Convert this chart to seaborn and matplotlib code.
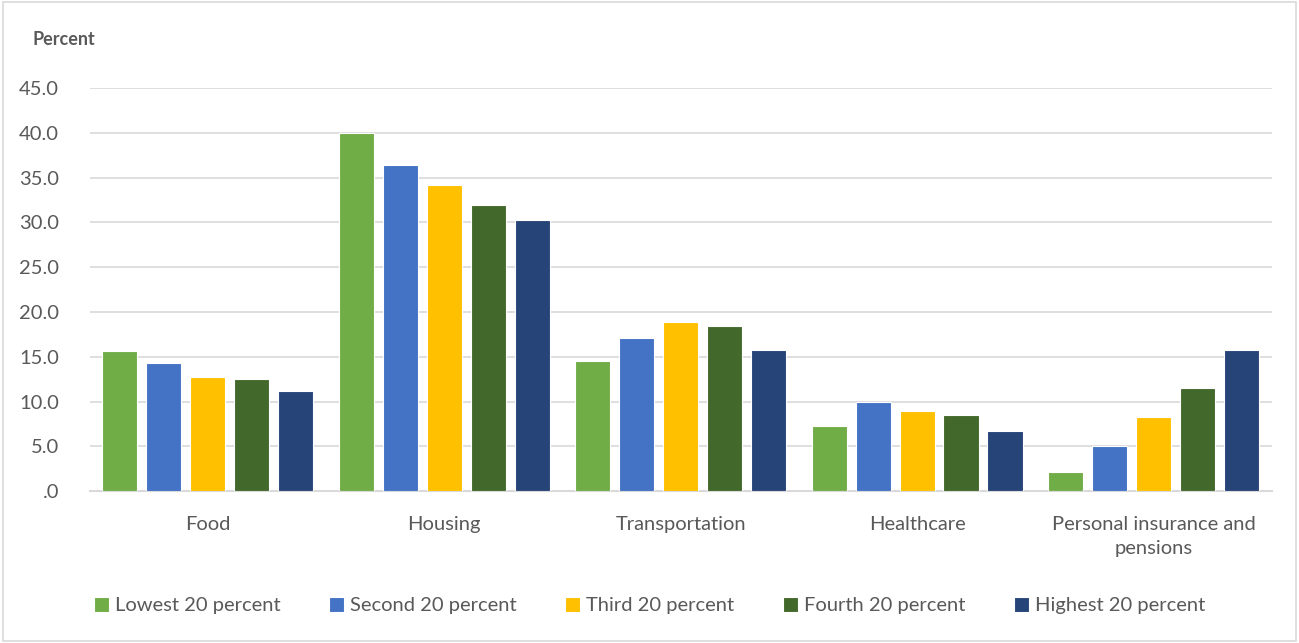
import matplotlib
matplotlib.use("Agg")
import matplotlib.pyplot as plt
import seaborn as sns
import pandas as pd

# Categories and series
categories = ["Food", "Housing", "Transportation", "Healthcare",
              "Personal insurance and\npensions"]
quintiles = ["Lowest 20 percent", "Second 20 percent", "Third 20 percent",
             "Fourth 20 percent", "Highest 20 percent"]
lowest = [15.7, 40.0, 14.5, 7.3, 2.2]
second = [14.3, 36.4, 17.1, 10.0, 5.0]
third = [12.7, 34.2, 18.9, 9.0, 8.3]
fourth = [12.5, 32.0, 18.4, 8.5, 11.5]
highest = [11.2, 30.3, 15.8, 6.7, 15.8]
yticks = [0, 5, 10, 15, 20, 25, 30, 35, 40, 45]
ytick_labels = [".0", "5.0", "10.0", "15.0", "20.0", "25.0", "30.0", "35.0", "40.0", "45.0"]

colors = ["#70AD47", "#4472C4", "#FFC000", "#43682B", "#264478"]

rows = []
for q, vals in zip(quintiles, [lowest, second, third, fourth, highest]):
    for c, v in zip(categories, vals):
        rows.append({"category": c, "quintile": q, "value": v})
df = pd.DataFrame(rows)

sns.set_style("white")
plt.rcParams['font.family'] = ['Lato', 'DejaVu Sans']

fig = plt.figure(figsize=(12.99, 6.43), dpi=100)
ax = fig.add_axes([0.069, 0.236, 0.91, 0.627])

sns.barplot(data=df, x="category", y="value", hue="quintile", order=categories,
            hue_order=quintiles, palette=colors, saturation=1, width=0.93, gap=0.2,
            edgecolor="white", linewidth=0.8, ax=ax, zorder=3)

ax.set_ylim(0, 45)
ax.set_yticks(yticks)
ax.set_yticklabels(ytick_labels, fontsize=14.5, color="#595959")
ax.set_xlim(-0.5, len(categories) - 0.5)
ax.tick_params(axis="x", labelsize=14.5, colors="#595959", length=0, pad=18)
ax.tick_params(axis="y", length=0, pad=22)
for lbl in ax.get_xticklabels():
    lbl.set_linespacing(1.45)
ax.grid(axis="y", color="#D9D9D9", linewidth=1.2, zorder=0)
ax.set_axisbelow(True)
for s in ["top", "right", "left"]:
    ax.spines[s].set_visible(False)
ax.spines["bottom"].set_color("#D9D9D9")
ax.spines["bottom"].set_linewidth(1.5)
ax.set_xlabel("")
ax.set_ylabel("")

fig.text(0.025, 0.938, "Percent", fontsize=13, fontweight="bold", color="#595959",
         va="center", ha="left")

ax.legend(loc="center", frameon=False, ncol=5, fontsize=14.5, handlelength=0.75,
          handleheight=0.75, handletextpad=0.3, columnspacing=2.4, labelcolor="#595959")
leg = ax.get_legend()
leg.set_bbox_to_anchor((0.5, 0.058), transform=fig.transFigure)

# light border around the chart
fig.patches.append(plt.Rectangle((0.002, 0.003), 0.996, 0.994, transform=fig.transFigure,
                                 fill=False, edgecolor="#D9D9D9", linewidth=1.2))

fig.savefig("out.png", dpi=100)
